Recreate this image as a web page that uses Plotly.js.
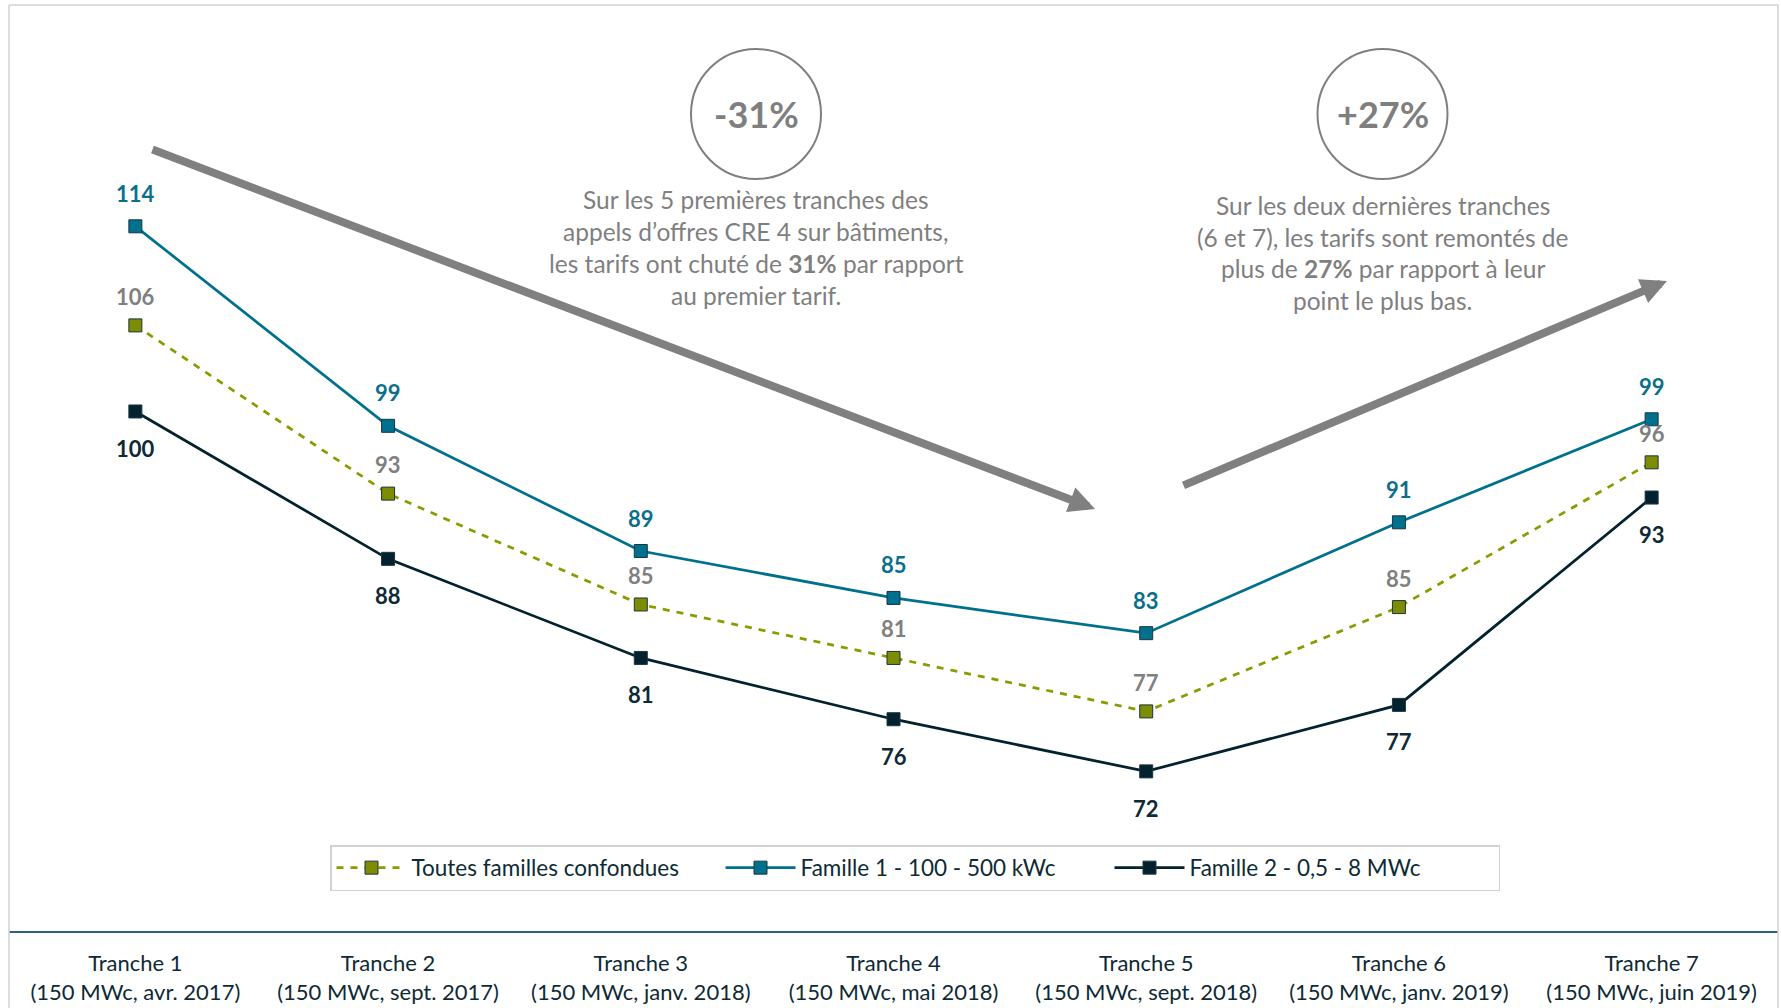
<!DOCTYPE html>
<html>
<head>
<meta charset="utf-8">
<script src="https://cdn.plot.ly/plotly-3.0.1.min.js"></script>
<style>html,body{margin:0;padding:0;background:#fff;}#chart{width:1781px;height:1008px;}</style>
</head>
<body>
<div id="chart"></div>
<script>
// ---- data ----
const categories = [
  'Tranche 1<br>(150 MWc, avr. 2017)',
  'Tranche 2<br>(150 MWc, sept. 2017)',
  'Tranche 3<br>(150 MWc, janv. 2018)',
  'Tranche 4<br>(150 MWc, mai 2018)',
  'Tranche 5<br>(150 MWc, sept. 2018)',
  'Tranche 6<br>(150 MWc, janv. 2019)',
  'Tranche 7<br>(150 MWc, juin 2019)'
];
const seriesNames = ['Toutes familles confondues', 'Famille 1 - 100 - 500 kWc', 'Famille 2 - 0,5 - 8 MWc'];
const toutesFamilles = [106.3, 93.4, 84.9, 80.8, 76.7, 84.7, 95.8];
const famille1 = [113.9, 98.6, 89.0, 85.4, 82.7, 91.2, 99.1];
const famille2 = [99.7, 88.4, 80.8, 76.1, 72.1, 77.2, 93.1];
const calloutLeftBadge = '-31%';
const calloutLeftLines = ['Sur les 5 premières tranches des', 'appels d’offres CRE 4 sur bâtiments,', 'les tarifs ont chuté de <b>31%</b> par rapport', 'au premier tarif.'];
const calloutRightBadge = '+27%';
const calloutRightLines = ['Sur les deux dernières tranches', '(6 et 7), les tarifs sont remontés de', 'plus de <b>27%</b> par rapport à leur', 'point le plus bas.'];

// ---- styles ----
const FONT = 'Lato, "Open Sans", sans-serif';
const cGreen = '#7d8c00', cGreenLine = '#8a9b00';
const cBlue = '#00708f';
const cDark = '#03222d';
const cGray = '#7f7f7f';
const cText = '#0e2a35';
const markerEdge = '#1b3540';

const traces = [
  {x: categories, y: toutesFamilles, name: seriesNames[0], type: 'scatter', mode: 'lines+markers',
   line: {color: cGreenLine, width: 2.75, dash: '7px,7px'},
   marker: {symbol: 'square', size: 13, color: cGreen, line: {color: markerEdge, width: 1}}},
  {x: categories, y: famille1, name: seriesNames[1], type: 'scatter', mode: 'lines+markers',
   line: {color: cBlue, width: 2.75},
   marker: {symbol: 'square', size: 13, color: cBlue, line: {color: markerEdge, width: 1}}},
  {x: categories, y: famille2, name: seriesNames[2], type: 'scatter', mode: 'lines+markers',
   line: {color: cDark, width: 2.75},
   marker: {symbol: 'square', size: 13, color: cDark, line: {color: markerEdge, width: 1}}}
];

const annotations = [];
function addLabels(vals, color, shift) {
  vals.forEach((v, i) => {
    annotations.push({x: categories[i], y: v, xref: 'x', yref: 'y', text: '<b>' + Math.round(v) + '</b>',
      showarrow: false, yshift: shift, font: {family: FONT, size: 22, color: color}});
  });
}
addLabels(toutesFamilles, '#808080', 29);
addLabels(famille1, '#0b6f8c', 33);
addLabels(famille2, cText, -37);

// callout texts
function addCallout(cx, badge, lines, topPx) {
  annotations.push({xref: 'paper', yref: 'paper', x: cx, y: (931 - 114) / 926, text: '<b>' + badge + '</b>',
    showarrow: false, xanchor: 'center', yanchor: 'middle', font: {family: FONT, size: 36, color: cGray}});
  lines.forEach((t, k) => {
    annotations.push({xref: 'paper', yref: 'paper', x: cx, y: (931 - (topPx + 31.7 * k)) / 926, text: t,
      showarrow: false, xanchor: 'center', yanchor: 'middle', font: {family: FONT, size: 24.5, color: cGray}});
  });
}
addCallout((756 - 9) / 1769, calloutLeftBadge, calloutLeftLines, 200);
addCallout((1382.5 - 9) / 1769, calloutRightBadge, calloutRightLines, 205.5);

// big trend arrows
annotations.push({xref: 'paper', yref: 'paper', x: (1095 - 9) / 1769, y: (931 - 509) / 926, axref: 'pixel', ayref: 'pixel',
  ax: -944, ay: -360, text: '', showarrow: true, arrowhead: 2, arrowsize: 0.65, arrowwidth: 8, arrowcolor: '#808080', standoff: 0});
annotations.push({xref: 'paper', yref: 'paper', x: (1667 - 9) / 1769, y: (931 - 281) / 926, axref: 'pixel', ayref: 'pixel',
  ax: -485, ay: 205, text: '', showarrow: true, arrowhead: 2, arrowsize: 0.65, arrowwidth: 8, arrowcolor: '#808080', standoff: 0});

const frameColor = '#d2d2d2';
const shapes = [
  {type: 'line', xref: 'paper', yref: 'paper', x0: 0, x1: 1, y0: 1, y1: 1, line: {color: frameColor, width: 1.5}},
  {type: 'line', xref: 'paper', yref: 'paper', x0: 0, x1: 0, y0: 1, y1: -0.09, line: {color: frameColor, width: 1.5}},
  {type: 'line', xref: 'paper', yref: 'paper', x0: 1, x1: 1, y0: 1, y1: -0.09, line: {color: frameColor, width: 1.5}},
  {type: 'circle', xref: 'paper', yref: 'paper', x0: (691 - 9) / 1769, x1: (821 - 9) / 1769, y0: (931 - 179) / 926, y1: (931 - 49) / 926,
   line: {color: cGray, width: 2}},
  {type: 'circle', xref: 'paper', yref: 'paper', x0: (1317.5 - 9) / 1769, x1: (1447.5 - 9) / 1769, y0: (931 - 179) / 926, y1: (931 - 49) / 926,
   line: {color: cGray, width: 2}}
];

const layout = {
  width: 1781, height: 1008,
  margin: {l: 9, r: 3, t: 5, b: 77},
  paper_bgcolor: '#ffffff', plot_bgcolor: '#ffffff',
  font: {family: FONT, color: cText},
  showlegend: true,
  legend: {orientation: 'h', x: (915 - 9) / 1769, xanchor: 'center', y: (931 - 845) / 926, yanchor: 'top',
    bgcolor: '#ffffff', bordercolor: frameColor, borderwidth: 1.5, font: {family: FONT, size: 22.5, color: cText},
    itemwidth: 70, entrywidth: 304, entrywidthmode: 'pixels'},
  xaxis: {type: 'category', range: [-0.5, 6.5], showgrid: false, zeroline: false, showline: true,
    linecolor: '#2b6677', linewidth: 2, ticks: '', ticklabelstandoff: 12,
    tickfont: {family: FONT, size: 22, color: cText}, fixedrange: true},
  yaxis: {range: [59.86, 130.87], showgrid: false, zeroline: false, showline: false, showticklabels: false, ticks: '', fixedrange: true},
  annotations: annotations,
  shapes: shapes
};

Plotly.newPlot('chart', traces, layout, {displayModeBar: false, responsive: false});
</script>
</body>
</html>
